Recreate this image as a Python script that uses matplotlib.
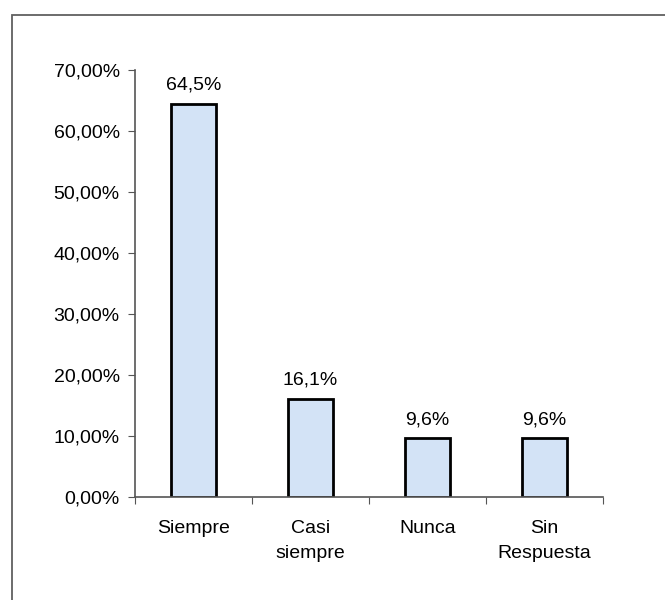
import matplotlib.pyplot as plt
from matplotlib.patches import Rectangle

plt.rcParams['font.family'] = ['Liberation Sans', 'DejaVu Sans']

categories = ['Siempre', 'Casi\nsiempre', 'Nunca', 'Sin\nRespuesta']
values = [64.5, 16.1, 9.6, 9.6]
labels = ['64,5%', '16,1%', '9,6%', '9,6%']
yticks = [0, 10, 20, 30, 40, 50, 60, 70]

fs = 14

fig = plt.figure(figsize=(6.65, 6.0), dpi=100)
ax = fig.add_axes([0.203, 0.172, 0.704, 0.711])

# outer frame (runs off the right and bottom edges like the scan)
frame = Rectangle((0.018, -0.1), 1.2, 1.075, transform=fig.transFigure,
                  fill=False, edgecolor='#606060', linewidth=1.3, clip_on=False)
fig.patches.append(frame)

x = range(len(values))
ax.bar(x, values, width=0.39, color='#d3e3f6', edgecolor='black', linewidth=2)

for i, (v, lab) in enumerate(zip(values, labels)):
    ax.text(i, v + 2.3, lab, ha='center', va='baseline', fontsize=fs)

ax.set_xlim(-0.5, len(values) - 0.5)
ax.set_ylim(0, 70)
ax.set_yticks(yticks)
ax.set_yticklabels([f'{t},00%' for t in yticks], fontsize=fs)
ax.set_xticks([i - 0.5 for i in range(len(values) + 1)])
ax.set_xticklabels([])
ax.set_xticks(list(x), minor=True)
ax.set_xticklabels(categories, minor=True, fontsize=fs, linespacing=1.55)
ax.tick_params(axis='x', which='minor', length=0, pad=17)
ax.tick_params(axis='x', which='major', length=5, color='#555555')
ax.tick_params(axis='y', length=5, color='#555555', pad=6)

for s in ['top', 'right']:
    ax.spines[s].set_visible(False)
for s in ['left', 'bottom']:
    ax.spines[s].set_color('#555555')
    ax.spines[s].set_linewidth(1.2)

fig.savefig('out.png', dpi=100)
